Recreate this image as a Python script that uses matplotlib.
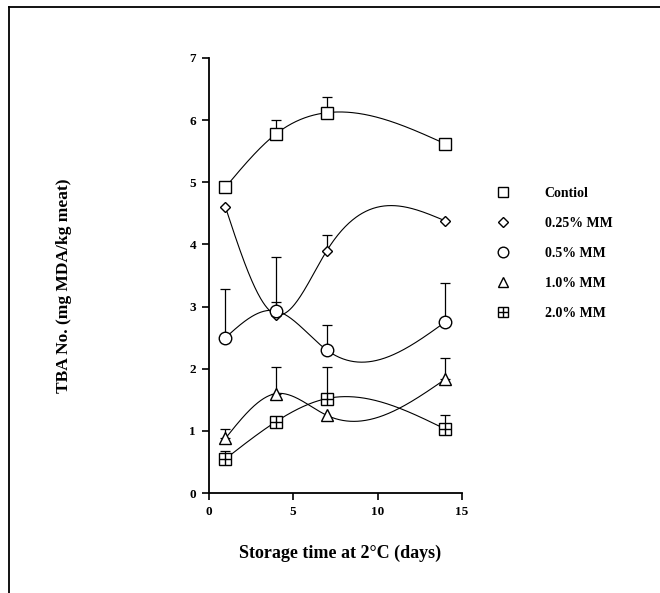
import numpy as np
import matplotlib
matplotlib.use("Agg")
import matplotlib.pyplot as plt
from matplotlib.lines import Line2D
from matplotlib.legend_handler import HandlerTuple

days = [1, 4, 7, 14]
series_names = ["Contiol", "0.25% MM", "0.5% MM", "1.0% MM", "2.0% MM"]
control = [4.92, 5.78, 6.12, 5.62]
mm025 = [4.60, 2.87, 3.90, 4.38]
mm05 = [2.50, 2.93, 2.30, 2.75]
mm10 = [0.88, 1.60, 1.25, 1.83]
mm20 = [0.55, 1.15, 1.52, 1.03]
err_control = [0.0, 0.22, 0.25, 0.0]
err_mm025 = [0.0, 0.93, 0.25, 0.0]
err_mm05 = [0.78, 0.14, 0.40, 0.63]
err_mm10 = [0.15, 0.43, 0.0, 0.35]
err_mm20 = [0.12, 0.0, 0.51, 0.22]
x_ticks = [0, 5, 10, 15]
y_ticks = [0, 1, 2, 3, 4, 5, 6, 7]


def natural_spline(x, y, xs):
    x = np.asarray(x, float); y = np.asarray(y, float)
    n = len(x)
    h = np.diff(x)
    A = np.zeros((n, n)); b = np.zeros(n)
    A[0, 0] = 1; A[-1, -1] = 1
    for i in range(1, n - 1):
        A[i, i - 1] = h[i - 1]
        A[i, i] = 2 * (h[i - 1] + h[i])
        A[i, i + 1] = h[i]
        b[i] = 3 * ((y[i + 1] - y[i]) / h[i] - (y[i] - y[i - 1]) / h[i - 1])
    c = np.linalg.solve(A, b)
    out = np.empty_like(xs)
    for k, xv in enumerate(xs):
        i = min(max(np.searchsorted(x, xv) - 1, 0), n - 2)
        bi = (y[i + 1] - y[i]) / h[i] - h[i] * (2 * c[i] + c[i + 1]) / 3
        di = (c[i + 1] - c[i]) / (3 * h[i])
        t = xv - x[i]
        out[k] = y[i] + bi * t + c[i] * t ** 2 + di * t ** 3
    return out


plt.rcParams['font.family'] = ['Liberation Serif', 'DejaVu Serif']
plt.rcParams['font.weight'] = 'bold'

fig = plt.figure(figsize=(6.6, 5.93), dpi=100)
ax = fig.add_axes([0.316, 0.1686, 0.384, 0.7336])

# frame lines (top and left)
fig.add_artist(Line2D([0.0136, 1.0], [0.988, 0.988], transform=fig.transFigure, color='black', lw=1.3))
fig.add_artist(Line2D([0.0136, 0.0136], [0.0, 0.988], transform=fig.transFigure, color='black', lw=1.3))

data = [control, mm025, mm05, mm10, mm20]
errs = [err_control, err_mm025, err_mm05, err_mm10, err_mm20]
markers = ['s', 'D', 'o', '^', 's']
msizes = [9, 5.5, 9, 9, 8]

xs = np.linspace(days[0], days[-1], 300)
handles = []
for vals, err, m, ms in zip(data, errs, markers, msizes):
    ax.plot(xs, natural_spline(days, vals, xs), color='black', lw=0.8, zorder=2)
    d = np.array(days, float); v = np.array(vals); e = np.array(err)
    mask = e > 0
    ax.errorbar(d[mask], v[mask], yerr=[np.zeros(mask.sum()), e[mask]], fmt='none',
                ecolor='black', elinewidth=0.9, capsize=3.5, capthick=0.9, zorder=1)
    ax.plot(days, vals, linestyle='none', marker=m, markersize=ms, markerfacecolor='white',
            markeredgecolor='black', markeredgewidth=1.0, zorder=3)
    h = Line2D([], [], linestyle='none', marker=m, markersize=ms * 0.85, markerfacecolor='white',
               markeredgecolor='black', markeredgewidth=1.0)
    handles.append(h)

ax.plot(days, mm20, linestyle='none', marker='+', markersize=8, markeredgecolor='black',
        markeredgewidth=1.0, zorder=4)
plus = Line2D([], [], linestyle='none', marker='+', markersize=8 * 0.85, markeredgecolor='black',
              markeredgewidth=1.0)
handles[4] = (handles[4], plus)

ax.set_xlim(0, 15)
ax.set_ylim(0, 7)
ax.set_xticks(x_ticks)
ax.set_yticks(y_ticks)
for s in ['top', 'right']:
    ax.spines[s].set_visible(False)
for s in ['left', 'bottom']:
    ax.spines[s].set_linewidth(1.3)
ax.tick_params(direction='out', length=5, width=1.2, labelsize=9.5, pad=4)
for lab in ax.get_xticklabels() + ax.get_yticklabels():
    lab.set_fontweight('bold')

fig.text(0.097, 0.518, "TBA No. (mg MDA/kg meat)", rotation=90, ha='center', va='center',
         fontsize=12.5, fontweight='bold')
fig.text(0.515, 0.067, "Storage time at 2\u00b0C (days)", ha='center', va='center',
         fontsize=13, fontweight='bold')

leg = fig.legend(handles, series_names, loc='upper left', bbox_to_anchor=(0.7325, 0.706),
                 frameon=False, handlelength=1.0, handletextpad=2.5,
                 labelspacing=1.22, handler_map={tuple: HandlerTuple(ndivide=1)},
                 prop={'weight': 'bold', 'size': 10})

fig.savefig("out.png", dpi=100)
